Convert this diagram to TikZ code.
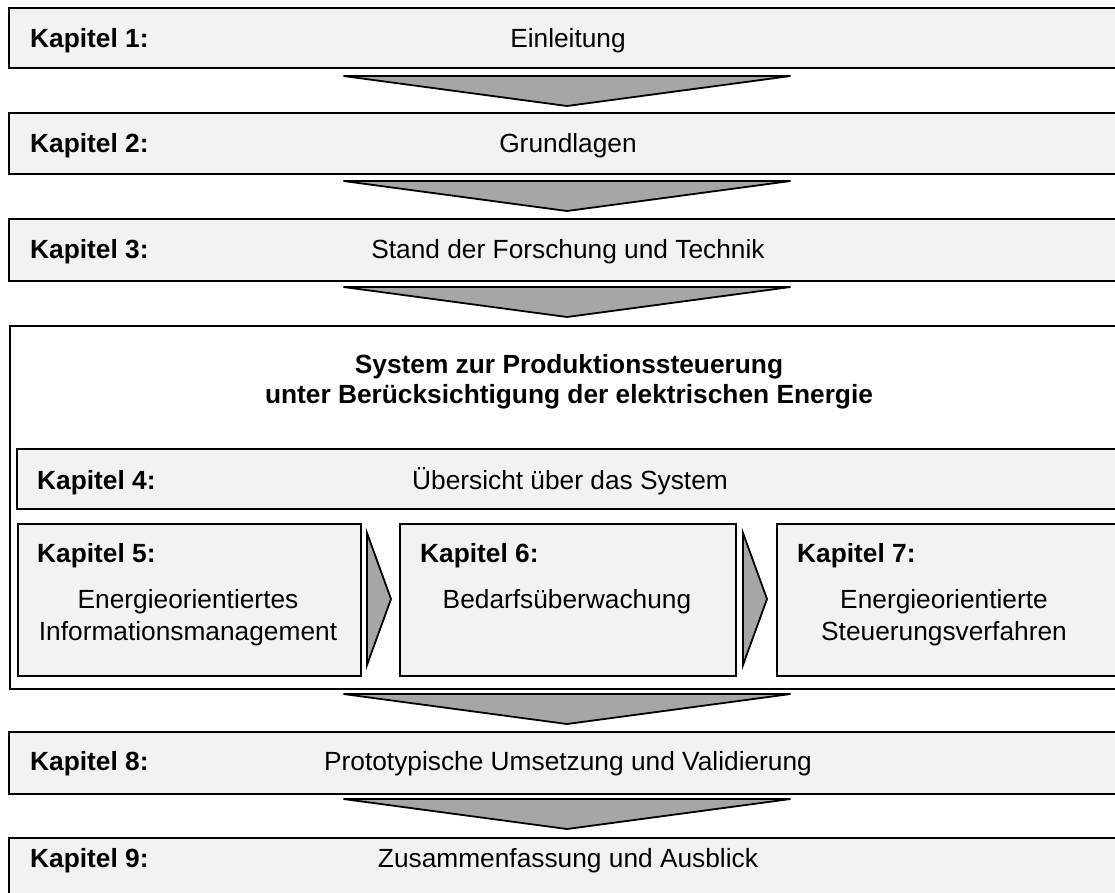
\documentclass[tikz,border=0pt]{standalone}
\usepackage{fontspec}
\setmainfont{Liberation Sans}
\definecolor{boxfill}{HTML}{F2F2F2}
\definecolor{arrowfill}{HTML}{A6A6A6}
\begin{document}
\begin{tikzpicture}[x=1pt,y=-1pt,
  chapbox/.style={draw=black, line width=1.8pt, fill=boxfill, rectangle,
    inner sep=0pt, anchor=north west},
  sysframe/.style={draw=black, line width=1.8pt, fill=white, rectangle,
    inner sep=0pt, anchor=north west},
  chaplabel/.style={font=\fontsize{26.3}{31}\selectfont\bfseries, anchor=base west, inner sep=0pt},
  chaptext/.style={font=\fontsize{26.3}{31}\selectfont, anchor=base, inner sep=0pt},
  titletext/.style={font=\fontsize{26.3}{31}\selectfont\bfseries, anchor=base, inner sep=0pt},
  blockarrow/.style={draw=black, line width=1.8pt, fill=arrowfill},
  downarrow/.pic={\draw[blockarrow] (-223.5,0) -- (223.5,0) -- (0,30) -- cycle;},
  rightarrow/.pic={\draw[blockarrow] (0,-66) -- (24,0) -- (0,66) -- cycle;},
]
\clip (0,0) rectangle (1115,892);

% chapter boxes
\node[chapbox, minimum width=1122pt, minimum height=60pt] (k1) at (8,7) {};
\node[chapbox, minimum width=1122pt, minimum height=61pt] (k2) at (8,112) {};
\node[chapbox, minimum width=1122pt, minimum height=62pt] (k3) at (8,218) {};
\node[sysframe, minimum width=1121pt, minimum height=363pt] (sys) at (9,325) {};
\node[chapbox, minimum width=1114pt, minimum height=60pt] (k4) at (16,448) {};
\node[chapbox, minimum width=343pt, minimum height=152pt] (k5) at (17,523) {};
\node[chapbox, minimum width=336pt, minimum height=152pt] (k6) at (399,523) {};
\node[chapbox, minimum width=345pt, minimum height=152pt] (k7) at (776,523) {};
\node[chapbox, minimum width=1122pt, minimum height=62pt] (k8) at (8,731) {};
\node[chapbox, minimum width=1122pt, minimum height=80pt] (k9) at (8,837) {};

% block arrows
\pic at (567,76) {downarrow};
\pic at (567,181) {downarrow};
\pic at (567,287) {downarrow};
\pic at (567,694) {downarrow};
\pic at (567,799) {downarrow};
\pic at (367,599) {rightarrow};
\pic at (743,599) {rightarrow};

% texts
\node[chaplabel] (l1) at (30,47) {Kapitel 1:};
\node[chaptext] (b1) at (568,47) {Einleitung};
\node[chaplabel] (l2) at (30,152) {Kapitel 2:};
\node[chaptext] (b2) at (568,152) {Grundlagen};
\node[chaplabel] (l3) at (30,258) {Kapitel 3:};
\node[chaptext] (b3) at (568,258) {Stand der Forschung und Technik};

\node[titletext] (s1) at (569,373) {System zur Produktionssteuerung};
\node[titletext] (s2) at (569,403) {unter Berücksichtigung der elektrischen Energie};

\node[chaplabel] (l4) at (37,489) {Kapitel 4:};
\node[chaptext] (b4) at (570,489) {Übersicht über das System};

\node[chaplabel] (l5) at (37,562) {Kapitel 5:};
\node[chaptext] (b5a) at (188,608) {Energieorientiertes};
\node[chaptext] (b5b) at (188,640) {Informationsmanagement};

\node[chaplabel] (l6) at (420,562) {Kapitel 6:};
\node[chaptext] (b6) at (567,608) {Bedarfsüberwachung};

\node[chaplabel] (l7) at (797,562) {Kapitel 7:};
\node[chaptext] (b7a) at (944,608) {Energieorientierte};
\node[chaptext] (b7b) at (944,640) {Steuerungsverfahren};

\node[chaplabel] (l8) at (30,770) {Kapitel 8:};
\node[chaptext] (b8) at (568,770) {Prototypische Umsetzung und Validierung};
\node[chaplabel] (l9) at (30,867) {Kapitel 9:};
\node[chaptext] (b9) at (568,867) {Zusammenfassung und Ausblick};
\end{tikzpicture}
\end{document}
